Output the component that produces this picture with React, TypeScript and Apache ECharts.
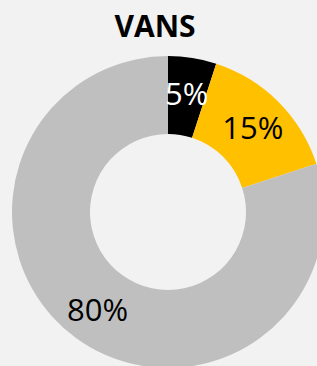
import React, { useEffect, useRef } from "react";
import * as echarts from "echarts";

const categories = ["Black", "Gold", "Gray"];
const values = [5, 15, 80];
const colors = ["#000000", "#FFC000", "#BFBFBF"];
const labelColors = ["#FFFFFF", "#000000", "#000000"];
const title = "VANS";

export default function App() {
  const ref = useRef<HTMLDivElement>(null);
  useEffect(() => {
    document.body.style.margin = "0";
    const chart = echarts.init(ref.current!, null, { renderer: "svg" });
    chart.setOption({
      animation: false,
      backgroundColor: "#F2F2F2",
      graphic: [
        {
          type: "text",
          x: 155,
          y: 25,
          style: {
            text: title,
            fontFamily: "Open Sans",
            fontWeight: "bold",
            fontSize: 30,
            fill: "#000000",
            textAlign: "center",
            textVerticalAlign: "middle",
          },
        },
      ],
      series: [
        {
          type: "pie",
          center: [168, 212],
          radius: [78, 156],
          startAngle: 90,
          clockwise: true,
          avoidLabelOverlap: false,
          label: {
            show: true,
            position: "inside",
            formatter: "{c}%",
            fontFamily: "Open Sans",
            fontSize: 31,
          },
          labelLine: { show: false },
          data: categories.map((name, i) => ({
            name,
            value: values[i],
            itemStyle: { color: colors[i] },
            label: { color: labelColors[i] },
          })),
        },
      ],
    });
    return () => chart.dispose();
  }, []);
  return (
    <div
      ref={ref}
      style={{ width: 317, height: 366, position: "absolute", left: 0, top: 0 }}
    />
  );
}
